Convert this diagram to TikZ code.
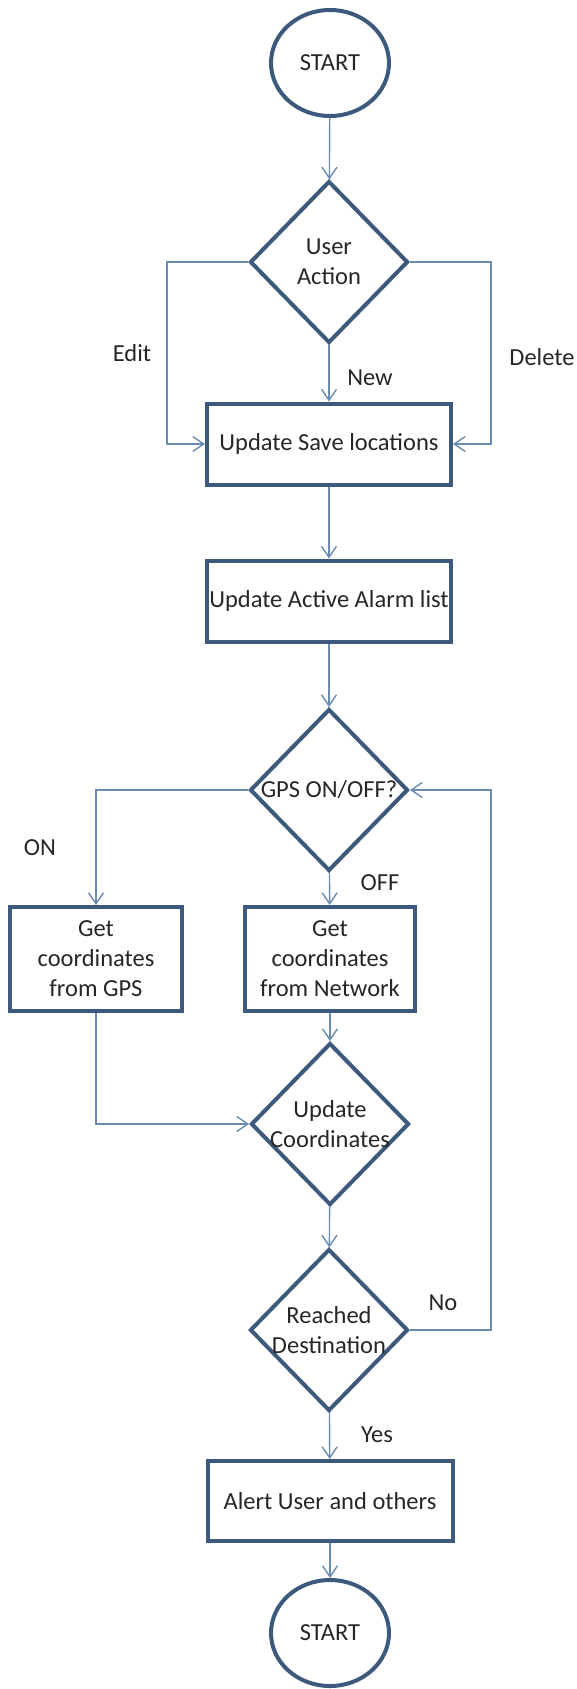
\documentclass[tikz,border=0pt]{standalone}
\usepackage{fontspec}
\setmainfont{Carlito}
\usetikzlibrary{shapes.geometric,arrows.meta}
\definecolor{edge}{HTML}{3D5A7C}
\definecolor{wire}{HTML}{6B8CB2}
\definecolor{ink}{HTML}{262626}
\tikzset{
  procbox/.style={draw=edge,line width=4pt,rectangle,inner sep=0pt,align=center},
  decision/.style={draw=edge,line width=4pt,diamond,inner xsep=-25pt,inner ysep=-12pt,align=center,
    minimum width=158pt,minimum height=162pt},
  terminal/.style={draw=edge,line width=4pt,ellipse,inner sep=0pt,
    minimum width=118pt,minimum height=106pt},
  flow/.style={draw=wire,line width=1.4pt,->},
}
\begin{document}
\begin{tikzpicture}[x=1pt,y=-1pt,
  every node/.style={font=\fontsize{24.5}{30}\selectfont,text=ink},
  >={Straight Barb[length=11pt,width=15pt]}]
\useasboundingbox (0,0) rectangle (577,1689);

\node[terminal] (start) at (330,63) {START};
\node[decision] (action) at (329,262) {User\\Action};
\node[procbox,minimum width=244pt,minimum height=81pt] (save) at (329,444) {Update Save locations};
\node[procbox,minimum width=244pt,minimum height=81pt] (alarm) at (329,601) {Update Active Alarm list};
\node[decision] (gpsq) at (329,790) {GPS ON/OFF?};
\node[procbox,minimum width=172pt,minimum height=104pt] (gps) at (96,959) {Get\\coordinates\\from GPS};
\node[procbox,minimum width=170pt,minimum height=104pt] (net) at (330,959) {Get\\coordinates\\from Network};
\node[decision] (upd) at (330,1124) {Update\\Coordinates};
\node[decision] (reach) at (329,1330) {Reached\\Destination};
\node[procbox,minimum width=245pt,minimum height=80pt] (alert) at (330,1501) {Alert User and others};
\node[terminal] (stop) at (330,1633) {START};

\draw[flow] (start) -- (action);
\draw[flow] (action.west) -- ++(-81,0) |- (save.west);
\draw[flow] (action.east) -- ++(81,0) |- (save.east);
\draw[flow] (action) -- (save);
\draw[flow] (save) -- (alarm);
\draw[flow] (alarm) -- (gpsq);
\draw[flow] (gpsq.west) -| (gps.north);
\draw[flow] (gpsq) -- (net);
\draw[flow] (net) -- (upd);
\draw[flow] (gps.south) |- (upd.west);
\draw[flow] (upd) -- (reach);
\draw[flow] (reach.east) -- ++(81,0) |- (gpsq.east);
\draw[flow] (reach) -- (alert);
\draw[flow] (alert) -- (stop);

\node (edit) at (132,353) {Edit};
\node (delete) at (542,357) {Delete};
\node (new) at (370,378) {New};
\node (on) at (40,848) {ON};
\node (off) at (380,883) {OFF};
\node (no) at (443,1303) {No};
\node (yes) at (377,1435) {Yes};
\end{tikzpicture}
\end{document}
